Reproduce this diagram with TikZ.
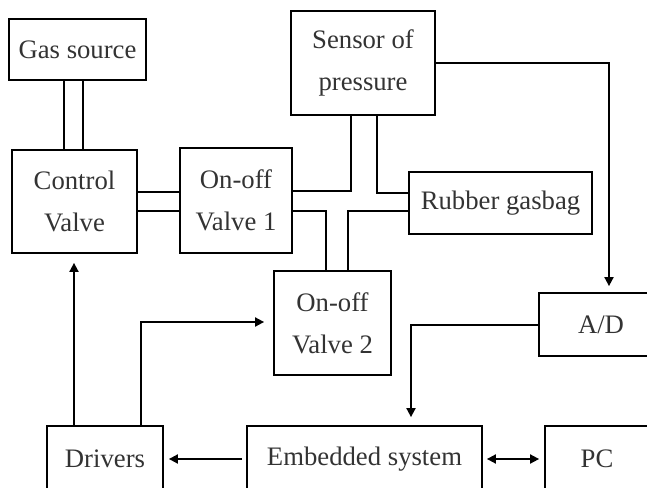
\documentclass[tikz,border=0pt]{standalone}
\usepackage{fontspec}
\setmainfont{Liberation Serif}
\usetikzlibrary{arrows.meta}

\begin{document}
\begin{tikzpicture}[x=0.5pt, y=-0.5pt, >={Triangle[length=4.5pt,width=4.5pt]},
  every node/.style={font=\fontsize{13.35pt}{21pt}\selectfont, text=black!80},
  blk/.style={draw=black, line width=0.9pt, inner sep=0pt, align=center},
  pipe/.style={line width=0.9pt},
  sig/.style={->, line width=0.9pt}]
  \useasboundingbox (0,0) rectangle (647,487);
  \clip (0,0) rectangle (647,487);
  \node[blk, minimum width=68.5pt, minimum height=30.5pt] (gas) at (77.5,49.5) {Gas source};
  \node[blk, minimum width=62.5pt, minimum height=51.5pt] (cv) at (74.5,201.5) {Control\\Valve};
  \node[blk, minimum width=56pt, minimum height=52.5pt] (v1) at (236,200.5) {On-off\\Valve 1};
  \node[blk, minimum width=72pt, minimum height=52pt] (sensor) at (363,63) {Sensor of\\pressure};
  \node[blk, minimum width=91.5pt, minimum height=31pt] (bag) at (500.5,203) {Rubber gasbag};
  \node[blk, minimum width=58.5pt, minimum height=52pt] (v2) at (332.5,323) {On-off\\Valve 2};
  \node[blk, minimum width=62pt, minimum height=31.5pt] (ad) at (601,324.5) {A/D};
  \node[blk, minimum width=58pt, minimum height=33pt] (drv) at (105,459) {Drivers};
  \node[blk, minimum width=117.5pt, minimum height=33pt] (emb) at (364.5,459) {Embedded system};
  \node[blk, minimum width=52pt, minimum height=33pt] (pc) at (597,459) {PC};
  % gas pipes
  \draw[pipe] (gas.south -| 64,0) -- (cv.north -| 64,0);
  \draw[pipe] (gas.south -| 83,0) -- (cv.north -| 83,0);
  \draw[pipe] (cv.east |- 0,192) -- (v1.west |- 0,192);
  \draw[pipe] (cv.east |- 0,211) -- (v1.west |- 0,211);
  \draw[pipe] (v1.east |- 0,191) -| (sensor.south -| 351,0);
  \draw[pipe] (v1.east |- 0,211) -| (v2.north -| 326,0);
  \draw[pipe] (sensor.south -| 377,0) |- (bag.west |- 0,193);
  \draw[pipe] (bag.west |- 0,211) -| (v2.north -| 348,0);
  % signals
  \draw[sig, shorten >=4.5pt] (drv.north -| 74,0) -- (cv.south -| 74,0);
  \draw[sig, shorten >=4.5pt] (drv.north -| 141,0) |- (v2.west |- 0,322);
  \draw[sig, shorten <=2pt, shorten >=2.5pt] (emb) -- (drv);
  \draw[sig, <->, shorten <=2pt, shorten >=2.5pt] (emb) -- (pc);
  \draw[sig, shorten >=3pt] (sensor.east |- 0,63) -| (ad.north -| 609,0);
  \draw[sig, shorten >=4pt] (ad.west |- 0,325) -| (emb.north -| 411,0);
\end{tikzpicture}
\end{document}
